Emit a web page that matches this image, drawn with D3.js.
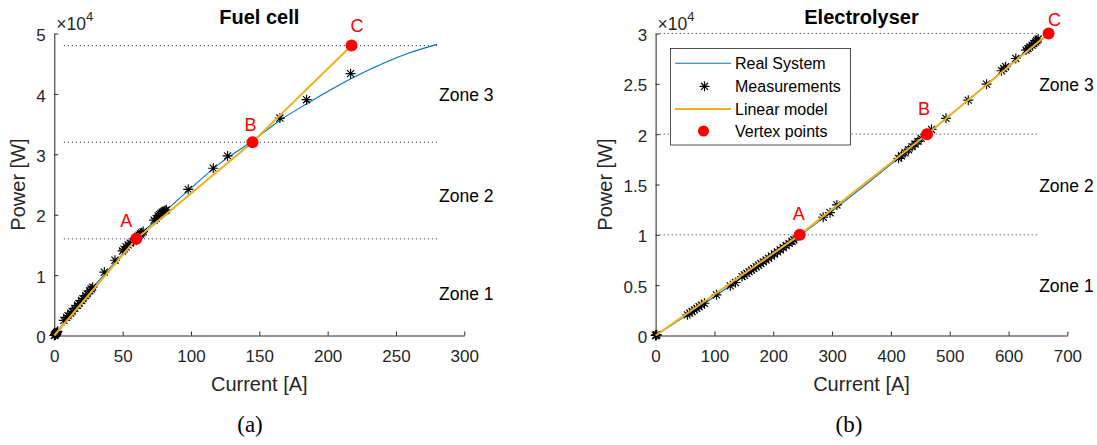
<!DOCTYPE html>
<html><head><meta charset="utf-8">
<script src="https://cdn.jsdelivr.net/npm/d3@7"></script>
<style>
body{margin:0;background:#fff}
svg{display:block}
text{font-family:"Liberation Sans",Arial,Helvetica,sans-serif}
</style>
</head><body>
<svg id="chart" width="1097" height="445"></svg>
<script>
// ---------------- Fuel cell (a) ----------------
const fcTitle = "Fuel cell";
const fcXTicks = [0, 50, 100, 150, 200, 250, 300];
const fcYTicks = [0, 10000, 20000, 30000, 40000, 50000];
const fcRealI = [0, 5, 10, 20, 30, 40, 50, 60, 80, 100, 120, 145, 165, 185, 200, 217, 240, 260, 280];
const fcRealP = [0, 1500, 2950, 5750, 8400, 11000, 13500, 16000, 20300, 24400, 28300, 32200, 35600, 38400, 40400, 42500, 45000, 46800, 48200];
const fcMeasI = [0, 0.5, 1, 1.5, 2, 2.5, 0.8, 1.8, 7, 9, 10, 12, 13, 15, 17, 18, 20, 21, 23, 24, 26, 27, 28, 36.6, 44.4, 50, 51, 52.5, 54, 55.5, 58, 59, 61, 62, 63, 64, 65, 73, 74.5, 76, 77, 78, 79, 80, 81, 82, 98, 116.3, 126.8, 165.1, 184.6, 216.8];
const fcMeasP = [0, 150, 300, 400, 550, 700, 100, 450, 2500, 3000, 3300, 3700, 4000, 4500, 5000, 5300, 5800, 6100, 6600, 6900, 7400, 7700, 8000, 10500, 12460, 14000, 14300, 14700, 15000, 15300, 15600, 15900, 16400, 16600, 16800, 17000, 17200, 19100, 19400, 19800, 20000, 20200, 20400, 20550, 20700, 20800, 24200, 27690, 29730, 36000, 39040, 43350];
const fcLinI = [0, 60, 145, 217.5];
const fcLinP = [0, 16000, 32000, 48000];
const fcVertexNames = ["A", "B", "C"];
const fcThresholds = [16000, 32000, 48000];
const fcZoneNames = ["Zone 1", "Zone 2", "Zone 3"];
const fcZoneP = [7000, 23300, 40000];

// ---------------- Electrolyser (b) ----------------
const elTitle = "Electrolyser";
const elXTicks = [0, 100, 200, 300, 400, 500, 600, 700];
const elYTicks = [0, 5000, 10000, 15000, 20000, 25000, 30000];
const elRealI = [0, 50, 100, 150, 200, 245, 300, 350, 400, 461, 500, 550, 600, 650];
const elRealP = [0, 1900, 3850, 5880, 7950, 9900, 12350, 14650, 17000, 19950, 21850, 24300, 26780, 29290];
const elMeasI = [0, 0.5, 1, 1.5, 2, 54, 58, 62, 66, 70, 74, 78, 83, 103.5, 127, 135.7, 147, 151, 155, 159, 163, 167, 171, 175, 179, 183, 188, 192, 197, 202, 207, 212, 217, 222, 227, 232, 235, 284.9, 296.5, 308.2, 413, 418, 424, 430, 436, 441, 446, 451.5, 469, 493.6, 531.5, 562.6, 588, 591.8, 595, 612.3, 629.8, 633, 636, 640, 643, 646, 648, 650.3];
const elMeasP = [0, 30, 60, 20, 80, 2050, 2220, 2380, 2540, 2700, 2860, 3020, 3200, 4040, 4930, 5260, 5850, 6010, 6170, 6340, 6500, 6660, 6830, 6990, 7150, 7310, 7510, 7680, 7890, 8100, 8310, 8520, 8730, 8940, 9150, 9360, 9490, 11750, 12200, 12970, 17600, 17850, 18150, 18450, 18760, 19020, 19280, 19580, 20470, 21570, 23380, 24970, 26300, 26530, 26700, 27520, 28350, 28500, 28650, 28850, 29000, 29150, 29300, 29450];
const elLinI = [0, 245, 461.3, 668];
const elLinP = [0, 10000, 20000, 30000];
const elVertexNames = ["A", "B", "C"];
const elThresholds = [10000, 20000, 30000];
const elZoneNames = ["Zone 1", "Zone 2", "Zone 3"];
const elZoneP = [5000, 15000, 25000];

const legendNames = ["Real System", "Measurements", "Linear model", "Vertex points"];

// ---------------- Drawing ----------------
const svg = d3.select("#chart");
const AX = "#262626", BLUE = "#0072BD", ORANGE = "#EDB120", RED = "#FF0000";
const STAR_R = 5;

function starPath(x, y, r) {
  const d = r * 0.7071;
  return `M${x - r},${y}H${x + r}M${x},${y - r}V${y + r}M${x - d},${y - d}L${x + d},${y + d}M${x - d},${y + d}L${x + d},${y - d}`;
}

function panel(o) {
  const g = svg.append("g");
  const x = d3.scaleLinear().domain(o.xDomain).range(o.xRange);
  const y = d3.scaleLinear().domain(o.yDomain).range(o.yRange);
  const x0 = o.xRange[0], y0 = o.yRange[0];

  g.selectAll(".thr").data(o.thresholds).join("line")
    .attr("x1", x(o.dotFrom)).attr("x2", x(o.dotTo))
    .attr("y1", d => y(d)).attr("y2", d => y(d))
    .attr("stroke", AX).attr("stroke-width", 1).attr("stroke-dasharray", "1,3");

  const ax = d3.axisBottom(x).tickValues(o.xTicks).tickSizeInner(-4).tickSizeOuter(0).tickPadding(0).tickFormat(d3.format("d"));
  const gx = g.append("g").attr("transform", `translate(0,${y0})`).call(ax);
  const ay = d3.axisLeft(y).tickValues(o.yTicks).tickSizeInner(-4).tickSizeOuter(0).tickPadding(8.5).tickFormat(d => String(+(d / 1e4).toFixed(1)));
  const gy = g.append("g").attr("transform", `translate(${x0},0)`).call(ay);
  [gx, gy].forEach(a => {
    a.select(".domain").attr("stroke", AX).attr("stroke-width", 1);
    a.selectAll(".tick line").attr("stroke", AX).attr("stroke-width", 1);
    a.selectAll(".tick text").attr("fill", AX).style("font-size", "17px").style("font-family", '"Liberation Sans",Arial,sans-serif');
  });
  gx.selectAll(".tick text").attr("y", 26.5).attr("dy", 0);
  gy.selectAll(".tick text").attr("dy", "0.36em").attr("y", 1);

  const ex = g.append("text").attr("x", x0 + 2).attr("y", 29.5).attr("fill", AX).style("font-size", "17.5px");
  ex.append("tspan").text("\u00D710");
  ex.append("tspan").attr("dy", -9).style("font-size", "13px").text("4");

  g.append("text").attr("x", (o.xRange[0] + o.xRange[1]) / 2).attr("y", 24)
    .attr("text-anchor", "middle").style("font-size", "20px").style("font-weight", "bold").attr("fill", "#000").text(o.title);

  g.append("text").attr("x", (o.xRange[0] + o.xRange[1]) / 2).attr("y", 391)
    .attr("text-anchor", "middle").style("font-size", "20px").attr("fill", AX).text("Current [A]");
  g.append("text").attr("transform", `translate(${o.yLabelX},${(o.yRange[0] + o.yRange[1]) / 2}) rotate(-90)`)
    .attr("text-anchor", "middle").style("font-size", "20px").attr("fill", AX).text("Power [W]");

  g.append("text").attr("x", o.capX).attr("y", 432).attr("text-anchor", "middle")
    .style("font-family", '"Liberation Serif","Times New Roman",serif').style("font-size", "23px").attr("fill", "#000").text(o.caption);

  const realPts = o.realI.map((v, i) => [v, o.realP[i]]);
  g.append("path").datum(realPts)
    .attr("d", d3.line().x(d => x(d[0])).y(d => y(d[1])).curve(d3.curveMonotoneX))
    .attr("fill", "none").attr("stroke", BLUE).attr("stroke-width", 1.1);

  const measPts = o.measI.map((v, i) => [v, o.measP[i]]);
  g.append("path")
    .attr("d", measPts.map(d => starPath(x(d[0]), y(d[1]), STAR_R)).join(""))
    .attr("fill", "none").attr("stroke", "#000").attr("stroke-width", 1.15);

  const linPts = o.linI.map((v, i) => [v, o.linP[i]]);
  g.append("path").datum(linPts)
    .attr("d", d3.line().x(d => x(d[0])).y(d => y(d[1])))
    .attr("fill", "none").attr("stroke", ORANGE).attr("stroke-width", 2);

  const vPts = linPts.slice(1);
  g.selectAll(".vtx").data(vPts).join("circle")
    .attr("cx", d => x(d[0])).attr("cy", d => y(d[1])).attr("r", 6).attr("fill", RED);
  g.selectAll(".vlab").data(vPts).join("text")
    .attr("x", (d, i) => x(d[0]) + o.labOff[i][0]).attr("y", (d, i) => y(d[1]) + o.labOff[i][1])
    .attr("text-anchor", "middle").style("font-size", "18px").attr("fill", RED)
    .text((d, i) => o.vertexNames[i]);

  g.selectAll(".zone").data(o.zoneP).join("text")
    .attr("x", x(o.zoneX)).attr("y", d => y(d) + 7)
    .style("font-size", "17.5px").attr("fill", "#000")
    .text((d, i) => o.zoneNames[i]);

  return { x, y, g };
}

panel({
  title: fcTitle, caption: "(a)", capX: 250,
  xDomain: [0, 300], xRange: [54.3, 464.3],
  yDomain: [0, 50000], yRange: [335.5, 33.5],
  xTicks: fcXTicks, yTicks: fcYTicks,
  realI: fcRealI, realP: fcRealP, measI: fcMeasI, measP: fcMeasP,
  linI: fcLinI, linP: fcLinP, vertexNames: fcVertexNames,
  labOff: [[-10, -12], [-2, -11], [5.5, -13.5]],
  thresholds: fcThresholds, dotFrom: 7, dotTo: 280,
  zoneNames: fcZoneNames, zoneP: fcZoneP, zoneX: 281.5,
  yLabelX: 24.5
});

panel({
  title: elTitle, caption: "(b)", capX: 849,
  xDomain: [0, 700], xRange: [655.6, 1067.4],
  yDomain: [0, 30000], yRange: [335.5, 33.5],
  xTicks: elXTicks, yTicks: elYTicks,
  realI: elRealI, realP: elRealP, measI: elMeasI, measP: elMeasP,
  linI: elLinI, linP: elLinP, vertexNames: elVertexNames,
  labOff: [[-1, -15], [-3, -19], [6, -8]],
  thresholds: elThresholds, dotFrom: 7, dotTo: 650,
  zoneNames: elZoneNames, zoneP: elZoneP, zoneX: 652,
  yLabelX: 611.5
});

const lg = svg.append("g");
lg.append("rect").attr("x", 670.5).attr("y", 48.5).attr("width", 180).attr("height", 96.5)
  .attr("fill", "#fff").attr("stroke", AX).attr("stroke-width", 0.8);
const rowY = [63.3, 86.3, 109, 131];
lg.append("line").attr("x1", 675).attr("x2", 731).attr("y1", rowY[0]).attr("y2", rowY[0]).attr("stroke", BLUE).attr("stroke-width", 1.1);
lg.append("path").attr("d", starPath(704.5, rowY[1], STAR_R)).attr("stroke", "#000").attr("stroke-width", 1.15).attr("fill", "none");
lg.append("line").attr("x1", 675).attr("x2", 731).attr("y1", rowY[2]).attr("y2", rowY[2]).attr("stroke", ORANGE).attr("stroke-width", 2);
lg.append("circle").attr("cx", 703.5).attr("cy", rowY[3]).attr("r", 5.5).attr("fill", RED);
lg.selectAll(".lt").data(legendNames).join("text")
  .attr("x", 735).attr("y", (d, i) => rowY[i] + 5.8)
  .style("font-size", "16px").attr("fill", "#000").text(d => d);
</script>
</body></html>
